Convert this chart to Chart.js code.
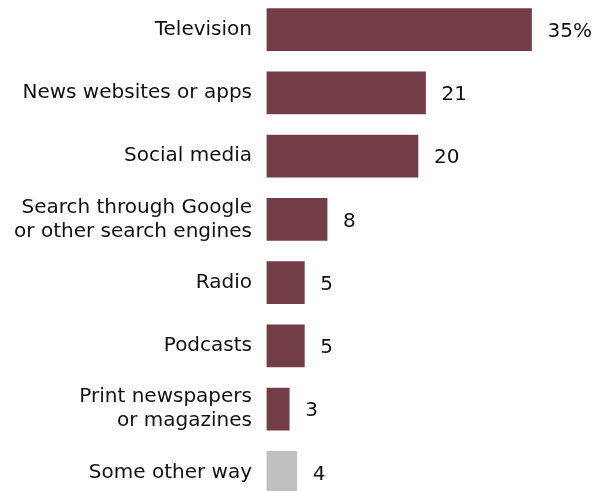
<!DOCTYPE html>
<html>
<head>
<meta charset="utf-8">
<script src="https://cdn.jsdelivr.net/npm/chart.js@4"></script>
<style>
  html, body { margin: 0; padding: 0; background: #fff; overflow: hidden; }
  #wrap { position: absolute; left: 0; top: -2px; width: 605px; height: 506px; }
</style>
</head>
<body>
<div id="wrap"><canvas id="c"></canvas></div>
<script>
const categories = [
  "Television",
  "News websites or apps",
  "Social media",
  ["Search through Google", "or other search engines"],
  "Radio",
  "Podcasts",
  ["Print newspapers", "or magazines"],
  "Some other way"
];
const values = [35, 21, 20, 8, 5, 5, 3, 4];
const valueLabels = ["35%", "21", "20", "8", "5", "5", "3", "4"];
const barColors = ["#733d47", "#733d47", "#733d47", "#733d47", "#733d47", "#733d47", "#733d47", "#bfbfbf"];

const FONT = "'DejaVu Sans', sans-serif";

// Writes each value just past the end of its bar
const valueLabelPlugin = {
  id: "valueLabels",
  afterDatasetsDraw(chart) {
    const ctx = chart.ctx;
    const meta = chart.getDatasetMeta(0);
    ctx.save();
    ctx.font = "20px " + FONT;
    ctx.fillStyle = "#111";
    ctx.textAlign = "left";
    ctx.textBaseline = "middle";
    meta.data.forEach((bar, i) => {
      ctx.fillText(valueLabels[i], bar.x + 16, bar.y + 2);
    });
    ctx.restore();
  }
};

new Chart(document.getElementById("c"), {
  type: "bar",
  data: {
    labels: categories,
    datasets: [{
      data: values,
      backgroundColor: barColors,
      borderWidth: 0,
      barThickness: 42
    }]
  },
  options: {
    indexAxis: "y",
    responsive: true,
    maintainAspectRatio: false,
    animation: false,
    layout: { padding: 0 },
    plugins: { legend: { display: false }, tooltip: { enabled: false } },
    scales: {
      x: {
        min: 0, max: 44.7,
        display: false
      },
      y: {
        grid: { display: false, drawTicks: false },
        border: { display: false },
        ticks: {
          padding: 14.5,
          color: "#111",
          font: { family: FONT, size: 20, lineHeight: 1.2 }
        },
        afterFit(scale) {
          scale.width = 266.5;
          scale.paddingTop = 0;
          scale.paddingBottom = 0;
        }
      }
    }
  },
  plugins: [valueLabelPlugin]
});
</script>
</body>
</html>
